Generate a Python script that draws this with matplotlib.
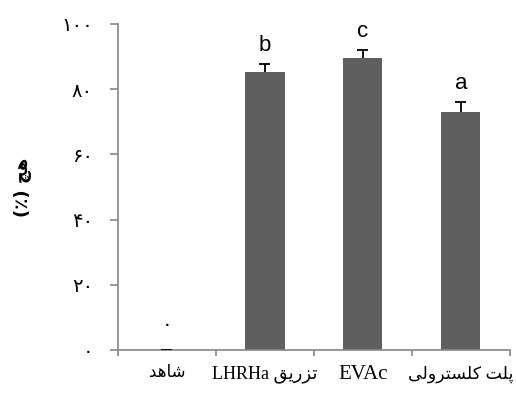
import numpy as np
import matplotlib.pyplot as plt

# minimal persian shaping (matplotlib 3.10 has no bidi / joining)
forms = {
    'ا': ('\uFE8D', '\uFE8E', None, None),
    'د': ('\uFEA9', '\uFEAA', None, None),
    'ر': ('\uFEAD', '\uFEAE', None, None),
    'ز': ('\uFEAF', '\uFEB0', None, None),
    'و': ('\uFEED', '\uFEEE', None, None),
    'ه': ('\uFEE9', '\uFEEA', '\uFEEB', '\uFEEC'),
    'ش': ('\uFEB5', '\uFEB6', '\uFEB7', '\uFEB8'),
    'ت': ('\uFE95', '\uFE96', '\uFE97', '\uFE98'),
    'ق': ('\uFED5', '\uFED6', '\uFED7', '\uFED8'),
    'ل': ('\uFEDD', '\uFEDE', '\uFEDF', '\uFEE0'),
    'س': ('\uFEB1', '\uFEB2', '\uFEB3', '\uFEB4'),
    'پ': ('\uFB56', '\uFB57', '\uFB58', '\uFB59'),
    'ک': ('\uFB8E', '\uFB8F', '\uFB90', '\uFB91'),
    'ی': ('\uFBFC', '\uFBFD', '\uFBFE', '\uFBFF'),
    'چ': ('\uFB7A', '\uFB7B', '\uFB7C', '\uFB7D'),
}


def shape_word(w):
    out = []
    for i, ch in enumerate(w):
        if ch not in forms:
            out.append(ch)
            continue
        prev = w[i - 1] if i > 0 else None
        nxt = w[i + 1] if i < len(w) - 1 else None
        join_prev = prev in forms and forms[prev][2] is not None
        join_next = nxt in forms and forms[ch][2] is not None
        iso, fin, ini, med = forms[ch]
        if join_prev and join_next:
            out.append(med)
        elif join_prev:
            out.append(fin)
        elif join_next:
            out.append(ini)
        else:
            out.append(iso)
    return ''.join(out)[::-1]


def fa(text):
    # rtl: reverse word order, shape persian words, keep latin words as is
    words = text.split(' ')
    res = []
    for w in words[::-1]:
        if any(c in forms for c in w):
            res.append(shape_word(w))
        else:
            res.append(w)
    return ' '.join(res)


categories = ['شاهد', 'تزریق LHRHa', 'EVAc', 'پلت کلسترولی']
label_sizes = [12, 13, 15, 12.5]
values = [0, 85.2, 89.6, 72.9]
errors = [0, 2.4, 2.4, 3.1]
letters = ['۰', 'b', 'c', 'a']
yticks = [0, 20, 40, 60, 80, 100]
ytick_labels = ['۰', '۲۰', '۴۰', '۶۰', '۸۰', '۱۰۰']
ylabel = 'هچ (٪)'

fig = plt.figure(figsize=(5.16, 3.96), dpi=100)
ax = fig.add_axes([0.2287, 0.1162, 0.7593, 0.8232])

x = np.arange(len(categories))
vals = np.array(values)
errs = np.array(errors)
ax.bar(x, vals, width=0.4, color='#5f5f5f', zorder=2)
# upper error bars only
ax.vlines(x, vals, vals + errs, color='black', lw=1.3, zorder=3)
ax.hlines(vals + errs, x - 0.056, x + 0.056, color='black', lw=1.3, zorder=3)

for i in range(len(x)):
    if i == 0:
        ax.text(x[i], vals[i] + 5, letters[i], ha='center', va='bottom',
                fontsize=14, family=['DejaVu Sans'])
    else:
        ax.text(x[i], vals[i] + errs[i] + 2.5, letters[i], ha='center',
                va='bottom', fontsize=16, family=['Liberation Sans'])

ax.set_xlim(-0.5, 3.5)
ax.set_ylim(0, 100)
ax.set_yticks(yticks)
ax.set_yticklabels(ytick_labels, family=['DejaVu Sans'], fontsize=14)
ax.set_xticks(x)
ax.set_xticklabels([fa(c) for c in categories],
                   family=['Liberation Serif', 'DejaVu Sans'])
for lab, sz in zip(ax.get_xticklabels(), label_sizes):
    lab.set_fontsize(sz)
ax.tick_params(axis='x', length=0, pad=11)
ax.set_xticks(np.arange(-0.5, 4, 1), minor=True)
ax.tick_params(axis='x', which='minor', length=4.3, color='#868686', width=1.2)
ax.tick_params(axis='y', length=6, color='#868686', width=1.2, pad=12)

for s in ['top', 'right']:
    ax.spines[s].set_visible(False)
for s in ['left', 'bottom']:
    ax.spines[s].set_color('#868686')
    ax.spines[s].set_linewidth(1.2)

fig.text(0.045, 0.527, fa(ylabel), rotation=90, ha='center', va='center',
         fontsize=13, fontweight='bold', family=['DejaVu Sans'])

fig.savefig('out.png', dpi=100)
